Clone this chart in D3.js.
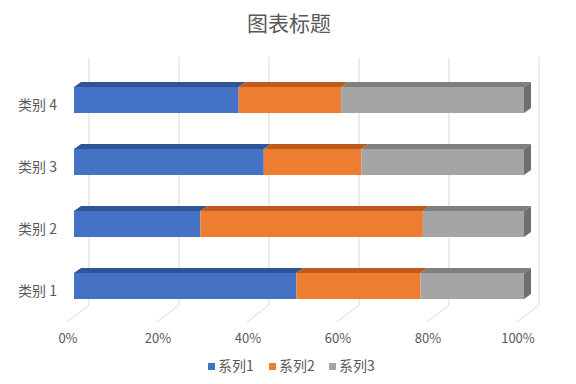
<!DOCTYPE html>
<html>
<head>
<meta charset="utf-8">
<script src="https://cdn.jsdelivr.net/npm/d3@7"></script>
<style>
  body { margin: 0; background: #fff; }
  svg { display: block; font-family: "Noto Sans CJK SC", "Noto Sans", sans-serif; }
</style>
</head>
<body>
<div id="chart"></div>
<script>
const categories = ["类别 1", "类别 2", "类别 3", "类别 4"];
const seriesNames = ["系列1", "系列2", "系列3"];
const series1 = [4.3, 2.5, 3.5, 4.5];
const series2 = [2.4, 4.4, 1.8, 2.8];
const series3 = [2, 2, 3, 5];
const tickValues = [0, 0.2, 0.4, 0.6, 0.8, 1];

const width = 576, height = 384;
const front = ["#4472c4", "#ed7d31", "#a5a5a5"];
const topColor = ["#2f5597", "#c05a1c", "#7f7f7f"];
const sideColor = "#6f6f6f";
const textColor = "#595959";
const gridColor = "#d9d9d9";

// bar depth offsets
const dx = 7, dy = 5;

const rows = categories.map((c, i) => ({ cat: c, s0: series1[i], s1: series2[i], s2: series3[i] }));
const stacked = d3.stack().keys(["s0", "s1", "s2"]).offset(d3.stackOffsetExpand)(rows);

const svg = d3.select("#chart").append("svg")
  .attr("width", width)
  .attr("height", height);

const xFront = d3.scaleLinear().domain([0, 1]).range([74, 524]);
const xBack = d3.scaleLinear().domain([0, 1]).range([89, 539]);
const xFloor = d3.scaleLinear().domain([0, 1]).range([67, 517]);

const y = d3.scaleBand()
  .domain(categories.slice().reverse())
  .range([69, 317])
  .paddingInner(0.58)
  .paddingOuter(0.29);

const wallTop = 57, wallBottom = 305, floorFront = 322;

// back wall + floor gridlines
const grid = svg.append("g").attr("fill", "none").attr("stroke", gridColor).attr("stroke-width", 1);
grid.selectAll("path")
  .data(tickValues)
  .join("path")
  .attr("d", d => `M${xBack(d)},${wallTop}L${xBack(d)},${wallBottom}L${xFloor(d)},${floorFront}`);

// tick labels
svg.append("g")
  .selectAll("text")
  .data(tickValues)
  .join("text")
  .attr("x", d => xFloor(d) + 1)
  .attr("y", 343)
  .attr("text-anchor", "middle")
  .attr("fill", textColor)
  .attr("font-size", 13)
  .text(d3.format(".0%"));

// bars
const bars = svg.append("g");
stacked.forEach((layer, si) => {
  const g = bars.append("g");
  layer.forEach(d => {
    const x0 = xFront(d[0]), x1 = xFront(d[1]);
    const yy = y(d.data.cat), h = y.bandwidth();
    g.append("path")
      .attr("fill", topColor[si])
      .attr("d", `M${x0},${yy}L${x0 + dx},${yy - dy}L${x1 + dx},${yy - dy}L${x1},${yy}Z`);
    g.append("rect")
      .attr("x", x0)
      .attr("y", yy)
      .attr("width", x1 - x0)
      .attr("height", h)
      .attr("fill", front[si]);
    if (si === stacked.length - 1) {
      g.append("path")
        .attr("fill", sideColor)
        .attr("d", `M${x1},${yy}L${x1 + dx},${yy - dy}L${x1 + dx},${yy + h - dy}L${x1},${yy + h}Z`);
    }
  });
});

// category labels
svg.append("g")
  .selectAll("text")
  .data(categories)
  .join("text")
  .attr("x", 57)
  .attr("y", d => y(d) + y.bandwidth() / 2 + 10)
  .attr("text-anchor", "end")
  .attr("fill", textColor)
  .attr("font-size", 14)
  .text(d => d);

// title
svg.append("text")
  .attr("x", 289)
  .attr("y", 31)
  .attr("text-anchor", "middle")
  .attr("fill", textColor)
  .attr("font-size", 21)
  .text("图表标题");

// legend
const legendX = [208, 269, 329];
const legend = svg.append("g")
  .selectAll("g")
  .data(seriesNames)
  .join("g")
  .attr("transform", (d, i) => `translate(${legendX[i]},0)`);
legend.append("rect")
  .attr("x", 0).attr("y", 363)
  .attr("width", 7).attr("height", 7)
  .attr("fill", (d, i) => front[i]);
legend.append("text")
  .attr("x", 10).attr("y", 371)
  .attr("fill", textColor)
  .attr("font-size", 14)
  .text(d => d);
</script>
</body>
</html>
